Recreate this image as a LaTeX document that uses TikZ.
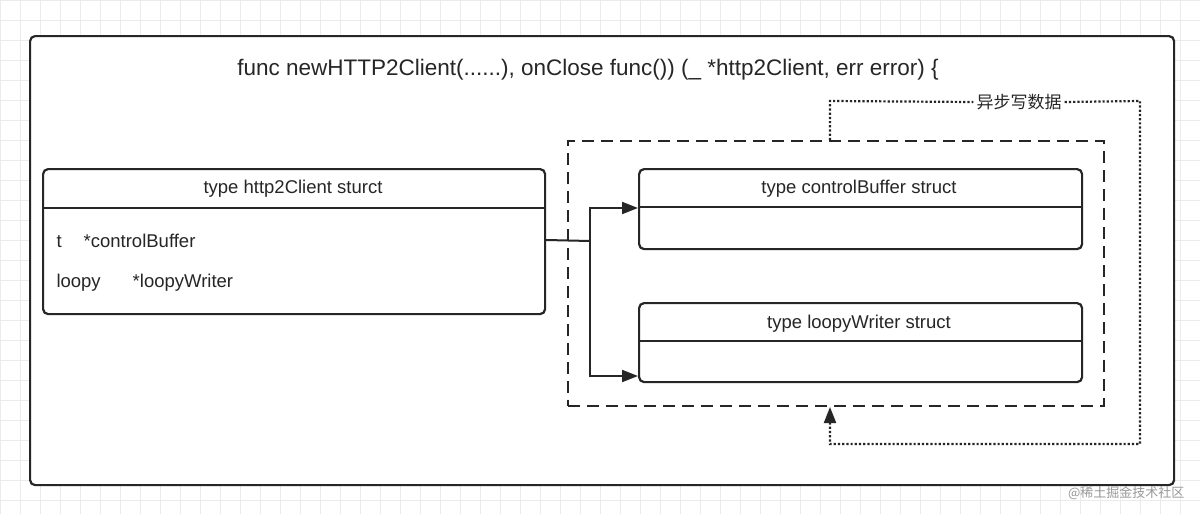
\documentclass[tikz,border=0pt]{standalone}
\usepackage{fontspec}
\setmainfont{Liberation Sans}
\newfontfamily\cjk{Noto Sans CJK SC}
\usetikzlibrary{arrows.meta}
\begin{document}
\begin{tikzpicture}[x=1pt,y=-1pt,
  box/.style={draw=black!85,line width=2.2pt,rounded corners=5pt},
  conn/.style={draw=black!85,line width=2pt,-{Triangle[length=16pt,width=12pt]}},
  txt/.style={font=\fontsize{18.5}{22}\selectfont,text=black!85}]
\useasboundingbox (0,0) rectangle (1200,514);
\fill[white] (0,0) rectangle (1200,514);
\foreach \i in {0,20,...,1200} \draw[black!8,line width=1pt] (\i,0) -- (\i,514);
\foreach \i in {0,20,...,514} \draw[black!8,line width=1pt] (0,\i) -- (1200,\i);
\node[box,fill=white,minimum width=1144pt,minimum height=449pt,anchor=north west] (outer) at (29,35) {};
\node[txt,font=\fontsize{22.5}{26}\selectfont] (title) at (588,70) {func newHTTP2Client(......), onClose func()) (\_ *http2Client, err error) \{};
\node[draw=black!85,line width=2pt,dash pattern=on 12pt off 7pt,minimum width=536pt,minimum height=265pt,anchor=north west] (group) at (567,140) {};
% http2Client
\node[box,minimum width=502pt,minimum height=145pt,anchor=north west] (hc) at (42,168) {};
\draw[black!85,line width=2.2pt] (42,208) -- (544,208);
\node[txt] (hct) at (293,189) {type http2Client sturct};
\node[txt,anchor=west] (f1) at (53,241) {t\hspace{22pt}*controlBuffer};
\node[txt,anchor=west] (f2) at (53,283) {loopy\hspace{32pt}*loopyWriter};
% controlBuffer
\node[box,minimum width=443pt,minimum height=80pt,anchor=north west] (cb) at (638,168) {};
\draw[black!85,line width=2.2pt] (638,207) -- (1081,207);
\node[txt] (cbt) at (859,189) {type controlBuffer struct};
% loopyWriter
\node[box,minimum width=443pt,minimum height=79pt,anchor=north west] (lw) at (638,302) {};
\draw[black!85,line width=2.2pt] (638,341) -- (1081,341);
\node[txt] (lwt) at (859,324) {type loopyWriter struct};
% connectors
\coordinate (j) at (590,241);
\draw[black!85,line width=2pt] (hc.east |- 0,240) -- (j);
\draw[conn] (j) |- (cb.west |- 0,208);
\draw[conn] (j) |- (lw.west |- 0,376);
% dotted loop
\node[txt,font=\cjk\fontsize{17}{20}\selectfont,fill=white,inner sep=3pt] (lab) at (1019,102) {异步写数据};
\draw[black!85,line width=2.2pt,dotted] (group.north -| 830,0) -- (830,101) -- (lab.west);
\draw[black!85,line width=2.2pt,dotted] (lab.east) -- (1140,101) -- (1140,444) -- (830,444) -- (830,422);
\draw[black!85,line width=2pt,-{Triangle[length=16pt,width=12pt]}] (830,423) -- (group.south -| 830,0);
\node[font=\cjk\fontsize{13}{15}\selectfont,text=black!40,anchor=east] (wm) at (1188,493) {@稀土掘金技术社区};
\end{tikzpicture}
\end{document}
